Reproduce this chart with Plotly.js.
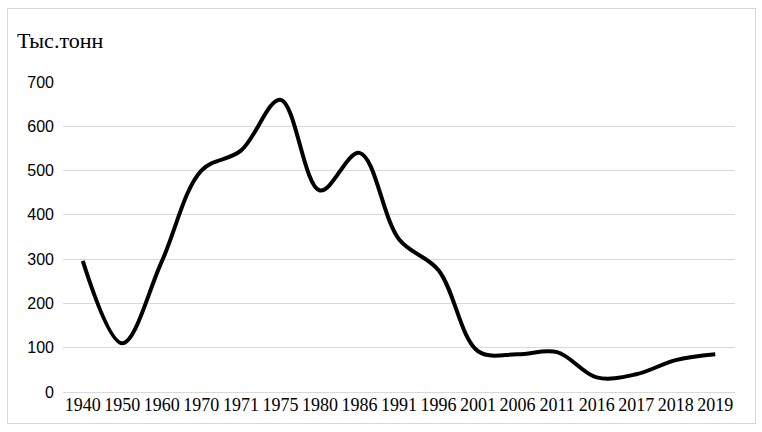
<!DOCTYPE html>
<html>
<head>
<meta charset="utf-8">
<script src="https://cdn.plot.ly/plotly-3.0.1.min.js"></script>
<style>
  body { margin: 0; background: #fff; }
  #wrap { position: relative; width: 762px; height: 432px; }
  #frame { position: absolute; left: 7px; top: 8px; width: 747px; height: 414px; border: 1px solid #d9d9d9; }
  #chart { position: absolute; left: 0; top: 0; width: 762px; height: 432px; }
</style>
</head>
<body>
<div id="wrap">
  <div id="frame"></div>
  <div id="chart"></div>
</div>
<script>
// годы (категории)
const years = ['1940', '1950', '1960', '1970', '1971', '1975', '1980', '1986', '1991',
               '1996', '2001', '2006', '2011', '2016', '2017', '2018', '2019'];
// добыча, тыс. тонн
const values = [296, 110, 295, 500, 545, 660, 455, 540, 345, 275, 92, 85, 90, 33, 40, 72, 85];

const trace = {
    x: years,
    y: values,
    type: 'scatter',
    mode: 'lines',
    line: { color: '#000000', width: 4, shape: 'spline', smoothing: 1 },
    hoverinfo: 'skip'
};

const layout = {
    width: 762,
    height: 432,
    margin: { l: 63, r: 27, t: 82, b: 40 },
    paper_bgcolor: 'rgba(0,0,0,0)',
    plot_bgcolor: 'rgba(0,0,0,0)',
    showlegend: false,
    xaxis: {
        type: 'category',
        range: [-0.5, 16.5],
        tickangle: 0,
        showgrid: false,
        showline: false,
        ticks: '',
        tickfont: { family: 'Liberation Serif', size: 18, color: '#000' }
    },
    yaxis: {
        range: [0, 700],
        dtick: 100,
        showgrid: true,
        gridcolor: '#d9d9d9',
        gridwidth: 1,
        zeroline: true,
        zerolinecolor: '#d9d9d9',
        zerolinewidth: 1,
        ticks: '',
        ticklabelstandoff: 8,
        tickfont: { family: 'Liberation Sans', size: 16, color: '#000' }
    },
    annotations: [{
        text: 'Тыс.тонн',
        xref: 'paper', yref: 'paper',
        x: -0.0714, y: 1.135,
        xanchor: 'left', yanchor: 'middle',
        showarrow: false,
        font: { family: 'Liberation Serif', size: 22, color: '#000' }
    }]
};

Plotly.newPlot('chart', [trace], layout, { staticPlot: true });
</script>
</body>
</html>
